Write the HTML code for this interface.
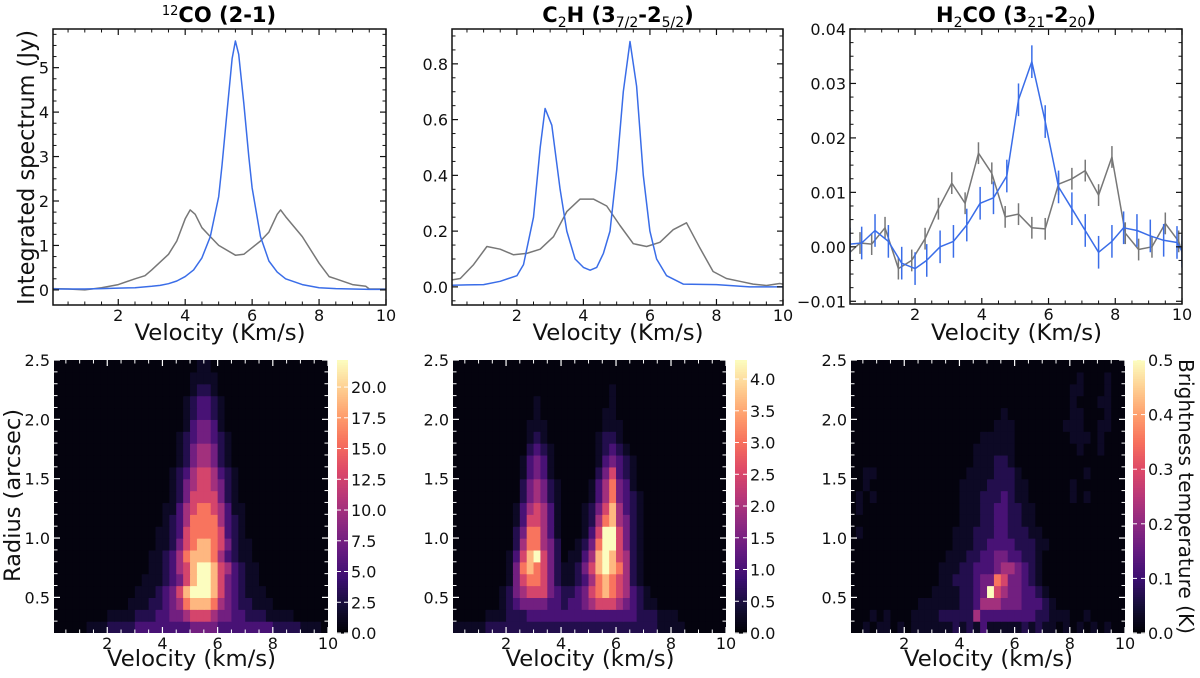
<!DOCTYPE html>
<html><head><meta charset="utf-8"><style>
html,body{margin:0;padding:0;background:#fff;}
svg{display:block;font-family:"DejaVu Sans","Liberation Sans",sans-serif;}
</style></head><body>
<svg id="fig" width="1200" height="678" viewBox="0 0 1200 678" xmlns="http://www.w3.org/2000/svg"></svg>
<script>
// ---------- Data ----------
const coBlueV=[0.05,0.5,1,1.5,2,2.5,3,3.25,3.5,3.75,4,4.25,4.5,4.75,5,5.1,5.25,5.4,5.5,5.6,5.75,5.9,6,6.25,6.5,6.75,7,7.5,8,8.5,9,9.5,10];
const coBlueY=[0.02,0.02,0.02,0.03,0.04,0.05,0.08,0.1,0.14,0.2,0.3,0.45,0.72,1.2,2.1,2.8,4.0,5.2,5.6,5.3,4.2,3.0,2.3,1.2,0.65,0.4,0.25,0.12,0.05,0.03,0.02,0.01,0.01];
const coGreyV=[0.05,0.5,1,1.5,2,2.5,2.8,3,3.5,3.75,4,4.15,4.3,4.5,4.75,5,5.5,5.75,6,6.25,6.5,6.75,6.85,7,7.5,8,8.3,8.5,9,9.4,9.5,10];
const coGreyY=[0.03,0.02,0.0,0.05,0.12,0.25,0.32,0.45,0.8,1.1,1.6,1.8,1.7,1.4,1.2,1.0,0.78,0.8,0.95,1.1,1.3,1.7,1.8,1.65,1.2,0.6,0.3,0.25,0.12,0.08,0.02,0.02];
const c2hBlueV=[0.05,0.5,1,1.5,2,2.2,2.5,2.7,2.85,3.05,3.3,3.5,3.75,4,4.2,4.4,4.6,4.8,5,5.2,5.4,5.6,5.8,6,6.2,6.5,7,8,9,10];
const c2hBlueY=[0.006,0.007,0.008,0.02,0.04,0.08,0.25,0.5,0.64,0.58,0.35,0.2,0.1,0.07,0.06,0.07,0.12,0.2,0.42,0.7,0.88,0.72,0.4,0.2,0.1,0.04,0.01,0.008,0.0,0.0];
const c2hGreyV=[0.05,0.3,0.7,1.1,1.5,1.9,2.3,2.7,3.1,3.5,3.9,4.3,4.7,5.1,5.5,5.9,6.3,6.7,7.1,7.5,7.9,8.3,8.7,9.1,9.5,9.9,10];
const c2hGreyY=[0.025,0.03,0.08,0.145,0.135,0.115,0.12,0.135,0.18,0.27,0.315,0.315,0.29,0.22,0.155,0.145,0.16,0.205,0.23,0.14,0.055,0.03,0.02,0.01,0.005,0.012,0.01];
const h2coBlueV=[0.05,0.4,0.8,1.2,1.6,2.0,2.35,2.75,3.15,3.55,3.95,4.35,4.75,5.1,5.5,5.9,6.3,6.7,7.1,7.5,7.9,8.25,8.65,9.05,9.45,9.85,10];
const h2coBlueY=[0.0005,0.0007,0.003,0.001,-0.003,-0.004,-0.0025,0.0,0.001,0.004,0.008,0.009,0.013,0.027,0.034,0.023,0.011,0.007,0.003,-0.001,0.001,0.0035,0.003,0.002,0.0012,0.0008,-0.0008];
const h2coGreyV=[0.05,0.35,0.7,1.1,1.5,1.9,2.3,2.7,3.1,3.5,3.9,4.3,4.7,5.1,5.5,5.9,6.3,6.7,7.1,7.5,7.9,8.3,8.7,9.1,9.5,9.9,10];
const h2coGreyY=[-0.001,0.0007,0.0005,0.0035,-0.004,-0.0025,0.0015,0.007,0.0117,0.008,0.0172,0.0135,0.0055,0.006,0.0035,0.0033,0.0115,0.0125,0.014,0.0095,0.0165,0.0025,-0.0005,0.0,0.0043,0.001,-0.001];
const h2coBlueErr=0.003, h2coGreyErr=0.002;

// Heatmaps: rows from radius 0.2 (bottom) to 2.5, step 0.1; 40 columns of 0.25 km/s; digit level 0-9
const coMap=[
"0000011122223333333344443333333322221110",
"0000000011112223344566654433222111100000",
"0000000000011122345788875432211100000000",
"0000000000001112346899986432111000000000",
"0000000000000111234689986432110000000000",
"0000000000000011235689986532110000000000",
"0000000000000011235788875321100000000000",
"0000000000000001124678876421100000000000",
"0000000000000001123677776321000000000000",
"0000000000000000123577775321000000000000",
"0000000000000000113567765311000000000000",
"0000000000000000012466664210000000000000",
"0000000000000000012456654210000000000000",
"0000000000000000012356653210000000000000",
"0000000000000000001245542100000000000000",
"0000000000000000001245542100000000000000",
"0000000000000000001234432100000000000000",
"0000000000000000000134431000000000000000",
"0000000000000000000123321000000000000000",
"0000000000000000000123321000000000000000",
"0000000000000000000012210000000000000000",
"0000000000000000000011110000000000000000",
"0000000000000000000001100000000000000000"];
const c2hMap=[
"1111122222 2222222222 2222222222 1111000000",
"0000011122 2333333333 3333333222 1110000000",
"0000000123 4444332334 5666543211 0000000000",
"0000000124 5666432234 6787653210 0000000000",
"0000000014 6776421123 5787652100 0000000000",
"0000000014 7876421124 6898752100 0000000000",
"0000000013 6896420113 5898652100 0000000000",
"0000000002 5775420012 4799642100 0000000000",
"0000000002 4775310001 3699642100 0000000000",
"0000000001 3665310001 2578542100 0000000000",
"0000000001 3565310001 2468532100 0000000000",
"0000000000 2454210000 1357432100 0000000000",
"0000000000 2454210000 1357431000 0000000000",
"0000000000 1343100000 0246321000 0000000000",
"0000000000 1343100000 0134321000 0000000000",
"0000000000 0232100000 0123210000 0000000000",
"0000000000 0121000000 0122100000 0000000000",
"0000000000 0111000000 0011100000 0000000000",
"0000000000 0010000000 0011000000 0000000000",
"0000000000 0010000000 0001000000 0000000000",
"0000000000 0000000000 0001000000 0000000000",
"0000000000 0000000000 0000000000 0000000000",
"0000000000 0000000000 0000000000 0000000000"];
const h2coMap=[
"0010110101 1111121213 1111121211 0101010100",
"0001010001 1112222253 3333333221 1100100000",
"0000000000 1111112235 5544433321 0000000000",
"0000000000 0011112234 9654433210 0000000000",
"0000000000 0001122234 4764432100 0000000000",
"0000000000 0001112233 3455432100 0000000000",
"0000000000 0000111223 3443322100 0000000000",
"0000000000 0000011122 3333222110 0000000000",
"0100000000 0000011122 2332221100 0000000000",
"0000000000 0000001112 2332211000 0000000000",
"0100000000 0000001112 2332211000 0000000000",
"0101000000 0000001112 2232110000 0010100000",
"0010000000 0000001111 2222110000 0010000000",
"0011000000 0000000111 1222100000 0000100000",
"0000000000 0000000011 1221000000 0000000000",
"0000000000 0000000011 1111000000 0001001000",
"0000000000 0000000001 1111000000 0011101000",
"0000000000 0000000000 0111000000 0111001100",
"0000000000 0000000000 0010000000 0011000100",
"0000000000 0000000000 0000000000 0010001100",
"0000000000 0000000000 0000000000 0011000100",
"0000000000 0000000000 0000000000 0001000100",
"0000000000 0000000000 0000000000 0000000000"];
const coMax=22.2, c2hMax=4.3, h2coMax=0.5;

// ---------- Helpers ----------
const NS="http://www.w3.org/2000/svg";
const svg=document.getElementById('fig');
function el(tag,attrs,parent){const e=document.createElementNS(NS,tag);for(const k in attrs)e.setAttribute(k,attrs[k]);(parent||svg).appendChild(e);return e;}
function txt(s,attrs,parent){const t=el('text',attrs,parent);t.textContent=s;return t;}
const magma=[[0,0,0,4],[0.1,20,14,54],[0.2,59,15,112],[0.3,100,26,128],[0.4,140,41,129],[0.5,183,55,121],[0.6,222,73,104],[0.7,247,112,92],[0.8,254,159,109],[0.9,254,207,146],[1,252,253,191]];
function cmap(t){t=Math.max(0,Math.min(1,t));for(let i=1;i<magma.length;i++){if(t<=magma[i][0]){const a=magma[i-1],b=magma[i];const f=(t-a[0])/(b[0]-a[0]);return `rgb(${Math.round(a[1]+f*(b[1]-a[1]))},${Math.round(a[2]+f*(b[2]-a[2]))},${Math.round(a[3]+f*(b[3]-a[3]))})`;}}return 'rgb(252,253,191)';}
function scale(d0,d1,r0,r1){return v=>r0+(v-d0)/(d1-d0)*(r1-r0);}
function fmt(v,dec){return v<0?'\u2212'+Math.abs(v).toFixed(dec):v.toFixed(dec);}
const FS=16;

function axesFrame(g,x0,x1,y0,y1,xs,ys,xmaj,xmin,ymaj,ymin,col,ydec){
  const tl=6,tm=3.5;
  xmaj.forEach(v=>{const x=xs(v);el('line',{x1:x,x2:x,y1:y1,y2:y1-tl,stroke:col,'stroke-width':1.2},g);el('line',{x1:x,x2:x,y1:y0,y2:y0+tl,stroke:col,'stroke-width':1.2},g);
    const t=txt(String(v),{x:x,y:y1+16,'font-size':FS,'text-anchor':'middle',fill:'#111'},g);});
  xmin.forEach(v=>{const x=xs(v);el('line',{x1:x,x2:x,y1:y1,y2:y1-tm,stroke:col,'stroke-width':1},g);el('line',{x1:x,x2:x,y1:y0,y2:y0+tm,stroke:col,'stroke-width':1},g);});
  ymaj.forEach(v=>{const y=ys(v);el('line',{x1:x0,x2:x0+tl,y1:y,y2:y,stroke:col,'stroke-width':1.2},g);el('line',{x1:x1,x2:x1-tl,y1:y,y2:y,stroke:col,'stroke-width':1.2},g);
    const t=txt(fmt(v,ydec),{x:x0-4,y:y+6,'font-size':FS,'text-anchor':'end',fill:'#111'},g);});
  ymin.forEach(v=>{const y=ys(v);el('line',{x1:x0,x2:x0+tm,y1:y,y2:y,stroke:col,'stroke-width':1},g);el('line',{x1:x1,x2:x1-tm,y1:y,y2:y,stroke:col,'stroke-width':1},g);});
}
function range(a,b,s){const r=[];for(let v=a;v<=b+1e-9;v+=s)r.push(+v.toFixed(6));return r;}

function spectrum(cfg){
  const g=el('g',{});
  
  
  const xs=scale(cfg.xd[0],cfg.xd[1],cfg.x0,cfg.x1), ys=scale(cfg.yd[0],cfg.yd[1],cfg.y1,cfg.y0);
  const cid='clip'+cfg.name;
  const cp=el('clipPath',{id:cid},g);el('rect',{x:cfg.x0,y:cfg.y0,width:cfg.x1-cfg.x0,height:cfg.y1-cfg.y0},cp);
  const pg=el('g',{'clip-path':`url(#${cid})`},g);
  cfg.series.forEach(s=>{
    const d=s.v.map((v,i)=>(i?'L':'M')+xs(v).toFixed(1)+','+ys(s.y[i]).toFixed(1)).join('');
    const p=el('path',{d:d,fill:'none',stroke:s.color,'stroke-width':1.5,'stroke-linejoin':'round'},pg);
    
    
    if(s.err){s.v.forEach((v,i)=>{const e=el('line',{x1:xs(v),x2:xs(v),y1:ys(s.y[i]-s.err),y2:ys(s.y[i]+s.err),stroke:s.color,'stroke-width':1.5},pg);
      
      });}
  });
  el('rect',{x:cfg.x0,y:cfg.y0,width:cfg.x1-cfg.x0,height:cfg.y1-cfg.y0,fill:'none',stroke:'#111','stroke-width':1.5},g);
  axesFrame(g,cfg.x0,cfg.x1,cfg.y0,cfg.y1,xs,ys,[2,4,6,8,10],range(0.5,9.5,0.5).filter(v=>v%2!==0),cfg.ymaj,cfg.ymin,'#111',cfg.ydec);
  const cx=(cfg.x0+cfg.x1)/2;
  const xl=txt('Velocity (Km/s)',{x:cx-85,y:340,'font-size':22,textLength:171,lengthAdjust:'spacingAndGlyphs',fill:'#111'},g);
  
}

function heat(cfg){
  const g=el('g',{});
  
  
  const xs=scale(cfg.xd[0],10,cfg.x0,cfg.x1), ys=scale(0.2,2.5,cfg.y1,cfg.y0);
  const cid='clip'+cfg.name;
  const cp=el('clipPath',{id:cid},g);el('rect',{x:cfg.x0,y:cfg.y0,width:cfg.x1-cfg.x0,height:cfg.y1-cfg.y0},cp);
  const pg=el('g',{'clip-path':`url(#${cid})`},g);
  el('rect',{x:cfg.x0,y:cfg.y0,width:cfg.x1-cfg.x0,height:cfg.y1-cfg.y0,fill:cmap(0.02)},pg);
  cfg.map.forEach((rowS,ri)=>{
    const row=rowS.replace(/ /g,'');
    const r0=0.2+ri*0.1;
    for(let c=0;c<row.length;c++){
      const val=Math.pow((+row[c])/9,1.4)*cfg.max*0.98+cfg.max*0.02;
      const xa=xs(c*0.25),xb=xs((c+1)*0.25),ya=ys(r0+0.1),yb=ys(r0);
      const r=el('rect',{x:xa.toFixed(2),y:ya.toFixed(2),width:(xb-xa+0.6).toFixed(2),height:(yb-ya+0.6).toFixed(2),fill:cmap(val/cfg.max)},pg);
      
      
    }
  });
  axesFrame(g,cfg.x0,cfg.x1,cfg.y0,cfg.y1,xs,ys,[2,4,6,8,10],range(0.5,9.5,0.5).filter(v=>v%2!==0),[0.5,1.0,1.5,2.0,2.5],range(0.3,2.4,0.1).filter(v=>Math.abs(v*2-Math.round(v*2))>1e-6),'#fff',1);
  const cx=(cfg.x0+cfg.x1)/2;
  const xl=txt('Velocity (km/s)',{x:cx-84,y:666,'font-size':22,textLength:169,lengthAdjust:'spacingAndGlyphs',fill:'#111'},g);
  
  const cb=el('g',{},g);
  
  
  const n=120;for(let i=0;i<n;i++){const y=cfg.y1-(i+1)*(cfg.y1-cfg.y0)/n;el('rect',{x:cfg.cx0,y:y.toFixed(2),width:cfg.cx1-cfg.cx0,height:((cfg.y1-cfg.y0)/n+0.6).toFixed(2),fill:cmap((i+0.5)/n)},cb);}
  const cs=scale(0,cfg.max,cfg.y1,cfg.y0);
  cfg.cticks.forEach(v=>{const y=cs(v);el('line',{x1:cfg.cx1,x2:cfg.cx1-4,y1:y,y2:y,stroke:'#fff','stroke-width':1},cb);el('line',{x1:cfg.cx0,x2:cfg.cx0+4,y1:y,y2:y,stroke:'#fff','stroke-width':1},cb);
    const t=txt(v.toFixed(1),{x:cfg.cx1+3,y:y+6,'font-size':FS,fill:'#111'},cb);});
}

spectrum({name:'co-spectrum',x0:53,x1:386,y0:29,y1:305,xd:[0.05,10],yd:[-0.34,5.87],ymaj:[0,1,2,3,4,5],ymin:range(0.25,5.75,0.25).filter(v=>v%1!==0),ydec:0,
  series:[{name:'co-grey-line',v:coGreyV,y:coGreyY,color:'#777'},{name:'co-blue-line',v:coBlueV,y:coBlueY,color:'#3a6de8'}]});
spectrum({name:'c2h-spectrum',x0:452,x1:783,y0:29,y1:305,xd:[0.05,10],yd:[-0.065,0.925],ymaj:[0,0.2,0.4,0.6,0.8],ymin:range(-0.05,0.9,0.05).filter(v=>Math.abs(v*5-Math.round(v*5))>1e-6),ydec:1,
  series:[{name:'c2h-grey-line',v:c2hGreyV,y:c2hGreyY,color:'#777'},{name:'c2h-blue-line',v:c2hBlueV,y:c2hBlueY,color:'#3a6de8'}]});
spectrum({name:'h2co-spectrum',x0:850,x1:1182,y0:29,y1:304,xd:[0.05,10],yd:[-0.0105,0.04],ymaj:[-0.01,0,0.01,0.02,0.03,0.04],ymin:range(-0.0075,0.0375,0.0025).filter(v=>Math.abs(v*100-Math.round(v*100))>1e-6),ydec:2,
  series:[{name:'h2co-grey-line',v:h2coGreyV,y:h2coGreyY,color:'#777',err:h2coGreyErr},{name:'h2co-blue-line',v:h2coBlueV,y:h2coBlueY,color:'#3a6de8',err:h2coBlueErr}]});

heat({name:'co-pv-map',x0:54,x1:328,y0:360,y1:633,xd:[0.07],map:coMap,max:coMax,cx0:337,cx1:348,cticks:range(0,20,2.5)});
heat({name:'c2h-pv-map',x0:453,x1:726,y0:360,y1:633,xd:[0.07],map:c2hMap,max:c2hMax,cx0:735,cx1:747,cticks:range(0,4,0.5)});
heat({name:'h2co-pv-map',x0:851,x1:1125,y0:360,y1:633,xd:[0.07],map:h2coMap,max:h2coMax,cx0:1133,cx1:1145,cticks:range(0,0.5,0.1)});
</script>
<script>
(function(){
const NS="http://www.w3.org/2000/svg";const svg=document.getElementById('fig');
function t(s,a,name,html){const e=document.createElementNS(NS,'text');for(const k in a)e.setAttribute(k,a[k]);if(html)e.innerHTML=s;else e.textContent=s;svg.appendChild(e);return e;}
t('<tspan font-size="13" dy="-7" font-weight="normal">12</tspan><tspan dy="7">CO (2-1)</tspan>',{x:219,y:22,'font-size':21,'font-weight':'bold','text-anchor':'middle',fill:'#000'},'title-co',true);
t('C<tspan font-size="14" dy="5" font-weight="normal">2</tspan><tspan dy="-5">H (3</tspan><tspan font-size="14" dy="5" font-weight="normal">7/2</tspan><tspan dy="-5">-2</tspan><tspan font-size="14" dy="5" font-weight="normal">5/2</tspan><tspan dy="-5">)</tspan>',{x:618,y:22,'font-size':21,'font-weight':'bold','text-anchor':'middle',fill:'#000'},'title-c2h',true);
t('H<tspan font-size="14" dy="5" font-weight="normal">2</tspan><tspan dy="-5">CO (3</tspan><tspan font-size="14" dy="5" font-weight="normal">21</tspan><tspan dy="-5">-2</tspan><tspan font-size="14" dy="5" font-weight="normal">20</tspan><tspan dy="-5">)</tspan>',{x:1016,y:22,'font-size':21,'font-weight':'bold','text-anchor':'middle',fill:'#000'},'title-h2co',true);
t('Integrated spectrum (Jy)',{x:-137,y:0,'font-size':23,textLength:275,lengthAdjust:'spacingAndGlyphs',fill:'#111',transform:'translate(34,168) rotate(-90)'},'y-axis-title-spectrum');
t('Radius (arcsec)',{x:-86,y:0,'font-size':22,textLength:173,lengthAdjust:'spacingAndGlyphs',fill:'#111',transform:'translate(20,496) rotate(-90)'},'y-axis-title-radius');
t('Brightness temperature (K)',{x:-137,y:0,'font-size':20,textLength:275,lengthAdjust:'spacingAndGlyphs',fill:'#111',transform:'translate(1179,496) rotate(90)'},'colorbar-title');
})();
</script>
</body></html>
